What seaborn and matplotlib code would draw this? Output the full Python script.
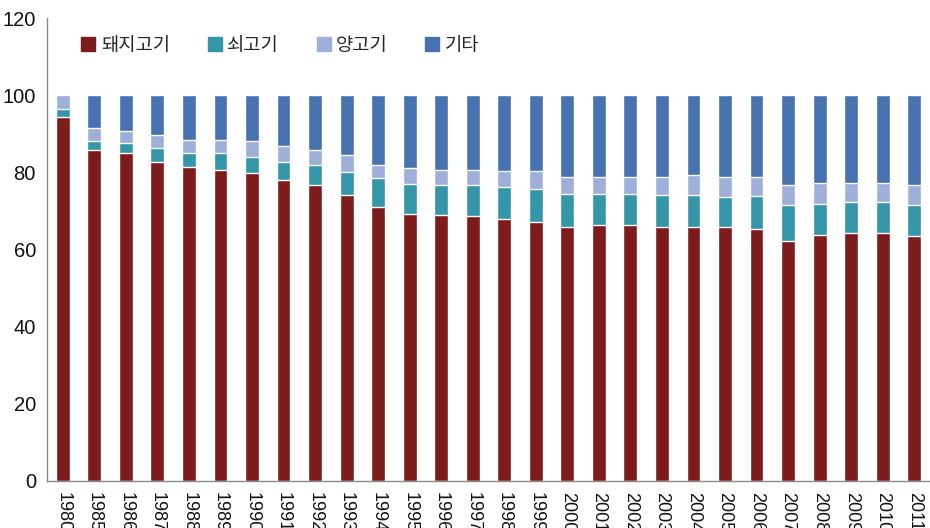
import numpy as np
import pandas as pd
import matplotlib
matplotlib.use("Agg")
import matplotlib.pyplot as plt
from matplotlib.lines import Line2D
import seaborn as sns

years = ["1980", "1985", "1986", "1987", "1988", "1989", "1990", "1991", "1992", "1993",
         "1994", "1995", "1996", "1997", "1998", "1999", "2000", "2001", "2002", "2003",
         "2004", "2005", "2006", "2007", "2008", "2009", "2010", "2011"]
pork = [94.3, 85.8, 84.9, 82.8, 81.4, 80.6, 79.8, 78.0, 76.7, 74.1,
        71.1, 69.2, 68.9, 68.7, 68.0, 67.1, 65.9, 66.4, 66.4, 65.9,
        65.9, 65.9, 65.4, 62.3, 63.7, 64.2, 64.2, 63.6]
beef = [2.1, 2.4, 2.7, 3.4, 3.5, 4.3, 4.2, 4.8, 5.2, 6.0,
        7.5, 7.8, 7.8, 8.1, 8.3, 8.7, 8.6, 8.1, 8.1, 8.3,
        8.3, 7.8, 8.5, 9.2, 8.2, 8.2, 8.2, 8.0]
sheep = [3.6, 3.3, 3.2, 3.5, 3.6, 3.6, 4.0, 4.0, 4.0, 4.3,
         3.4, 4.2, 4.0, 3.9, 4.1, 4.5, 4.4, 4.4, 4.4, 4.7,
         5.1, 5.2, 5.0, 5.3, 5.3, 4.8, 4.8, 5.2]
other = [0.0, 8.5, 9.2, 10.3, 11.5, 11.5, 12.0, 13.2, 14.1, 15.6,
         18.0, 18.8, 19.3, 19.3, 19.6, 19.7, 21.1, 21.1, 21.1, 21.1,
         20.7, 21.1, 21.1, 23.2, 22.8, 22.8, 22.8, 23.2]
series_names = ["돼지고기", "쇠고기", "양고기", "기타"]
colors = ["#7d1c1c", "#3496a8", "#9eafd9", "#4672b0"]

df = pd.DataFrame({"year": years, "돼지고기": pork, "쇠고기": beef,
                   "양고기": sheep, "기타": other})
cum = df[series_names].cumsum(axis=1)

sns.set_style("white")
plt.rcParams["font.family"] = ["Liberation Sans", "Noto Sans CJK KR", "DejaVu Sans"]

fig = plt.figure(figsize=(9.3, 5.28), dpi=100)
ax = fig.add_axes([47 / 930, 47 / 528, 1 - 47 / 930, 463 / 528])

# draw from the top of the stack down so lower segments overlay upper ones
for name, col in reversed(list(zip(series_names, colors))):
    sns.barplot(x=df["year"], y=cum[name], color=col, width=0.44,
                saturation=1, ax=ax, order=years)

ax.set_ylim(0, 120)
ax.set_xlim(-0.5, 27.38)
ax.set_yticks(range(0, 121, 20))
ax.set_xlabel("")
ax.set_ylabel("")

for s in ["top", "right"]:
    ax.spines[s].set_visible(False)
for s in ["left", "bottom"]:
    ax.spines[s].set_color("#8a8a8a")
    ax.spines[s].set_linewidth(1.0)

ax.set_xticks(np.arange(-0.5, 27.6, 1), minor=True)
ax.tick_params(axis="x", which="major", length=0, pad=8, labelsize=13,
               labelrotation=270, labelcolor="#111111")
ax.tick_params(axis="x", which="minor", length=6, color="#8a8a8a", direction="out")
ax.tick_params(axis="y", which="major", length=5, color="#8a8a8a", direction="out",
               labelsize=14.5, labelcolor="#111111", pad=3)
for lab in ax.get_xticklabels():
    lab.set_va("top")
    lab.set_ha("center")

handles = [Line2D([0], [0], marker="s", linestyle="none", markersize=9.5,
                  markerfacecolor=c, markeredgecolor=c) for c in colors]
leg = fig.legend(handles, series_names, loc="center left",
                 bbox_to_anchor=(72 / 930, 1 - 45 / 528), ncol=4, frameon=False,
                 borderpad=0, handlelength=0.75, handletextpad=0.3,
                 columnspacing=2.0, prop={"family": ["Noto Sans CJK KR"], "size": 13.5})

fig.savefig("out.png", dpi=100)
